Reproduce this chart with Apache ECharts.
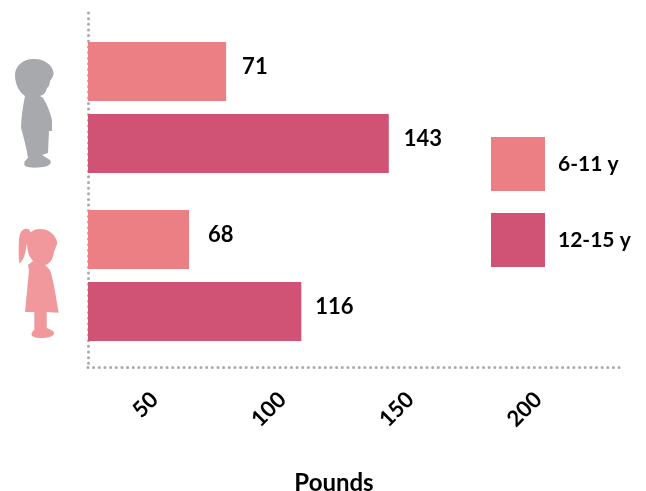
<!DOCTYPE html>
<html><head><meta charset="utf-8">
<style>html,body{margin:0;padding:0;background:#fff}#c{width:646px;height:491px}</style>
<script src="https://cdn.jsdelivr.net/npm/echarts@6/dist/echarts.min.js"></script>
</head><body><div id="c"></div>
<script>
const categories = ['Boys', 'Girls'];
const seriesNames = ['6-11 y', '12-15 y'];
// bar lengths as drawn in the picture
const bars611 = [78, 63.5];
const bars1215 = [141.6, 107.4];
// printed labels
const labels611 = [71, 68];
const labels1215 = [143, 116];
const tickLabels = [50, 100, 150, 200];
const labelGap611 = [16, 19];
const labelGap1215 = [15, 14];

const FONT = 'Lato';
const INK = '#000';
const DOT = '#a7a9ac';
const xMin = 24, xMax = 232;
const dots = {color: DOT, width: 3, type: [0, 5.65], cap: 'round'};

const boy = 'M33 59 C42 58 53 64 53.5 73 C53.5 77 51 79 50 81 L49 86 L47 88 C46 92 44 95 40 96 L43 98 C47 104 50 112 52 120 L52 131 L49 131 L48 153 L42 155 L50 160 C52 163 50 165 46 166.5 C38 168 30 168 26 166.5 C23 165 24 161 28 158 L27 152 C25 142 23 135 21 128 C21 118 23 106 25 96 C19 92 15 84 15 75 C15 66 23 59 33 59 Z';
const girl = 'M25 229 C28 228 30 230 30.5 232.5 C33 230 36 229 40 229 C49 229 56 235 57.3 243 L54 252 C53 259 50 264 45 265 L50 270 C54 282 56 298 58.7 312.7 L46.7 312 L46.7 328 C50 329 54 331 54 333 C54 336 50 337.5 43 338 C37 338.5 31.5 337 31.5 334.5 C31.5 332 33 331 34.3 330 L34.3 312 L25 312 L29 270 L28 265 L33 261 C29 257 27 250 27 243 L25.7 250 C25 255 23 261 19.3 263.5 C18.5 255 18.5 247 19 240 C19.5 234 21 230 25 229 Z';

echarts.graphic.registerShape('boyIcon', echarts.graphic.extendPath(boy));
echarts.graphic.registerShape('girlIcon', echarts.graphic.extendPath(girl));

function makeData(vals, labels, gaps) {
  return vals.map((v, i) => ({
    value: v,
    label: {formatter: String(labels[i]), distance: gaps[i]}
  }));
}
function barSeries(name, color, vals, labels, gaps) {
  return {
    name, type: 'bar', xAxisIndex: 1, yAxisIndex: 1,
    barWidth: 59, barGap: '22%',
    itemStyle: {color},
    label: {show: true, position: 'right', offset: [0, -5], color: INK,
            fontFamily: FONT, fontWeight: 700, fontSize: 22},
    data: makeData(vals, labels, gaps)
  };
}
const chart = echarts.init(document.getElementById('c'), null, {renderer: 'canvas'});
chart.setOption({
  animation: false,
  backgroundColor: '#fff',
  textStyle: {fontFamily: FONT},
  grid: [
    {left: 88, top: 13, width: 532, height: 354, outerBoundsMode: 'none'},
    {left: 88, top: 23.5, width: 532, height: 336, outerBoundsMode: 'none'}
  ],
  legend: {
    orient: 'vertical', left: 491, top: 137, padding: 0, itemWidth: 54, itemHeight: 54, itemGap: 22,
    icon: 'rect', data: seriesNames, selectedMode: false,
    textStyle: {color: INK, fontFamily: FONT, fontWeight: 700, fontSize: 21, padding: [-6, 0, 0, 8]}
  },
  xAxis: [
    {type: 'value', gridIndex: 0, min: xMin, max: xMax,
     name: 'Pounds', nameLocation: 'middle', nameGap: 104,
     nameTextStyle: {color: INK, fontFamily: FONT, fontWeight: 700, fontSize: 24, padding: [0, 40, 0, 0]},
     splitLine: {show: false}, axisTick: {show: false},
     axisLine: {show: true, onZero: false, lineStyle: dots},
     axisLabel: {rotate: 45, color: INK, fontFamily: FONT, fontWeight: 700, fontSize: 22, margin: 29,
                 customValues: tickLabels}},
    {type: 'value', gridIndex: 1, min: xMin, max: xMax, show: false}
  ],
  yAxis: [
    {type: 'category', gridIndex: 0, data: categories, inverse: true,
     axisTick: {show: false}, axisLabel: {show: false},
     axisLine: {show: true, lineStyle: dots}},
    {type: 'category', gridIndex: 1, data: categories, inverse: true, show: false}
  ],
  series: [
    barSeries(seriesNames[0], '#ec7f83', bars611, labels611, labelGap611),
    barSeries(seriesNames[1], '#d05274', bars1215, labels1215, labelGap1215)
  ],
  graphic: [
    {type: 'boyIcon', style: {fill: '#a7a9ac'}},
    {type: 'girlIcon', style: {fill: '#f0989c'}}
  ]
});
</script></body></html>
